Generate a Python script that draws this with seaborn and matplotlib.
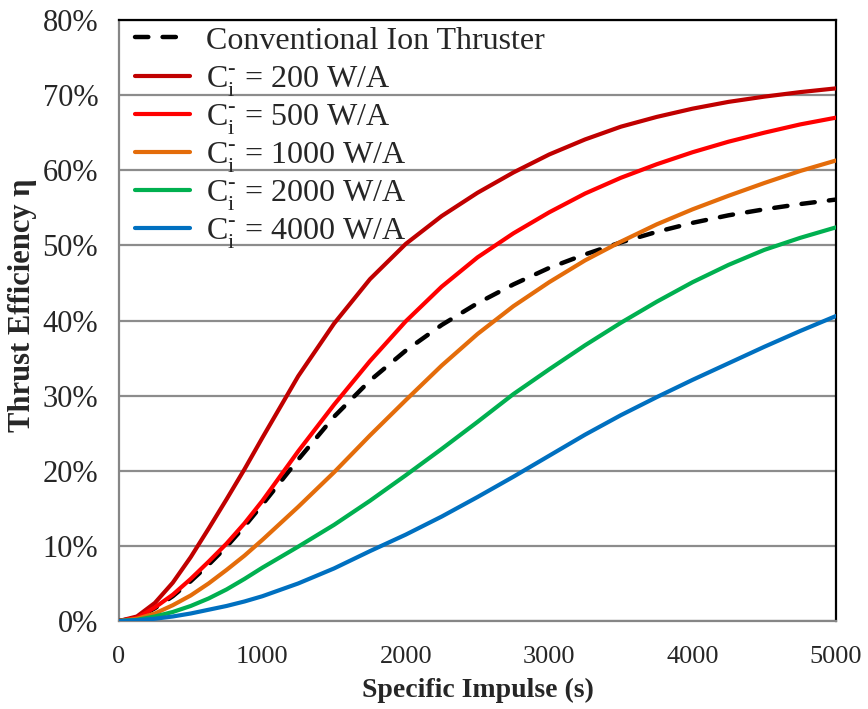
import matplotlib
matplotlib.use("Agg")
import matplotlib.pyplot as plt
import seaborn as sns
import numpy as np
import pandas as pd
from matplotlib.ticker import PercentFormatter

# Specific impulse (s)
isp = [0, 125, 250, 375, 500, 625, 750, 875, 1000, 1250, 1500, 1750, 2000,
       2250, 2500, 2750, 3000, 3250, 3500, 3750, 4000, 4250, 4500, 4750, 5000]

# Thrust efficiency (%)
conventional = [0, 0.4, 1.7, 3.3, 5.3, 7.5, 9.9, 12.6, 15.5, 21.5, 27.2, 32.0, 36.0,
                39.4, 42.3, 44.8, 47.0, 48.8, 50.4, 51.8, 53.0, 54.0, 54.8, 55.5, 56.1]
ci_200 = [0, 0.6, 2.4, 5.1, 8.5, 12.3, 16.2, 20.2, 24.4, 32.6, 39.6, 45.5, 50.2,
          53.9, 57.0, 59.7, 62.1, 64.1, 65.8, 67.1, 68.2, 69.1, 69.8, 70.4, 70.9]
ci_500 = [0, 0.4, 1.8, 3.5, 5.6, 7.9, 10.3, 13.0, 16.0, 22.6, 28.8, 34.6, 39.9,
          44.5, 48.4, 51.6, 54.4, 56.9, 59.0, 60.8, 62.4, 63.8, 65.0, 66.1, 67.0]
ci_1000 = [0, 0.3, 1.0, 2.1, 3.4, 5.0, 6.8, 8.7, 10.8, 15.2, 19.8, 24.7, 29.4,
           34.0, 38.2, 41.9, 45.1, 48.0, 50.5, 52.8, 54.8, 56.6, 58.3, 59.9, 61.3]
ci_2000 = [0, 0.15, 0.6, 1.2, 2.0, 3.0, 4.2, 5.6, 7.1, 9.9, 12.8, 16.0, 19.4,
           22.9, 26.5, 30.2, 33.5, 36.7, 39.7, 42.5, 45.1, 47.4, 49.4, 51.0, 52.4]
ci_4000 = [0, 0.1, 0.3, 0.6, 1.0, 1.5, 2.0, 2.6, 3.3, 5.0, 7.0, 9.3, 11.5,
           13.9, 16.5, 19.2, 22.0, 24.8, 27.4, 29.8, 32.1, 34.3, 36.5, 38.6, 40.6]

labels = ["Conventional Ion Thruster",
          "C$_\\mathregular{i}^\\mathregular{\u2010}$ = 200 W/A",
          "C$_\\mathregular{i}^\\mathregular{\u2010}$ = 500 W/A",
          "C$_\\mathregular{i}^\\mathregular{\u2010}$ = 1000 W/A",
          "C$_\\mathregular{i}^\\mathregular{\u2010}$ = 2000 W/A",
          "C$_\\mathregular{i}^\\mathregular{\u2010}$ = 4000 W/A"]
series = [conventional, ci_200, ci_500, ci_1000, ci_2000, ci_4000]
colors = ["#000000", "#C00000", "#FF0000", "#E46C0A", "#00B050", "#0070C0"]

xticks = [0, 1000, 2000, 3000, 4000, 5000]
yticks = [0, 0.1, 0.2, 0.3, 0.4, 0.5, 0.6, 0.7, 0.8]

sns.set_theme(style="white")
plt.rcParams["font.family"] = ["Liberation Serif", "DejaVu Serif"]
plt.rcParams["mathtext.fontset"] = "custom"
plt.rcParams["mathtext.rm"] = "Liberation Serif"

fig = plt.figure(figsize=(8.68, 7.09), dpi=100)
ax = fig.add_axes([119/868, 88/709, (836-119)/868, (621-20)/709])

for i, (lab, vals, col) in enumerate(zip(labels, series, colors)):
    df = pd.DataFrame({"isp": isp, "eff": np.array(vals) / 100.0})
    if i == 0:
        sns.lineplot(data=df, x="isp", y="eff", ax=ax, color=col, label=lab,
                     linewidth=3.2, linestyle=(0, (3.0, 3.2)),
                     dash_capstyle="round", zorder=3)
    else:
        sns.lineplot(data=df, x="isp", y="eff", ax=ax, color=col, label=lab,
                     linewidth=3.0, zorder=3 + i)

ax.set_xlim(0, 5000)
ax.set_ylim(0, 0.8)
ax.set_xticks(xticks)
ax.set_yticks(yticks)
ax.yaxis.set_major_formatter(PercentFormatter(1.0, decimals=0))
ax.tick_params(axis="both", which="major", direction="out",
               length=6, width=1.5, color="#868686")
ax.tick_params(axis="x", labelsize=19, pad=12)
ax.tick_params(axis="y", labelsize=22, pad=9)
ax.yaxis.grid(True, color="#8C8C8C", linewidth=1.6)
ax.xaxis.grid(False)
ax.set_axisbelow(True)

for side in ["left", "bottom"]:
    ax.spines[side].set_color("#868686")
    ax.spines[side].set_linewidth(1.6)
for side in ["top", "right"]:
    ax.spines[side].set_color("#000000")
    ax.spines[side].set_linewidth(1.6)

ax.set_xlabel("Specific Impulse (s)", fontsize=20, fontweight="bold", labelpad=7)
ax.set_ylabel("Thrust Efficiency η", fontsize=22, fontweight="bold")
ax.yaxis.set_label_coords(-0.114, 0.525)

leg = ax.legend(loc="upper left", frameon=False, fontsize=23,
                handlelength=1.72, handletextpad=0.5, labelspacing=0.12,
                borderpad=0.35, borderaxespad=0.0, bbox_to_anchor=(0.007, 1.0))
# the first entry has no subscript, so lift it to the same row pitch
first_text = leg.get_texts()[0]
first_text.set_y(5)
first_line = leg.get_lines()[0]
first_line.set_ydata(np.asarray(first_line.get_ydata()) + 5 * 72.0 / fig.dpi)

fig.savefig("out.png", dpi=100)
